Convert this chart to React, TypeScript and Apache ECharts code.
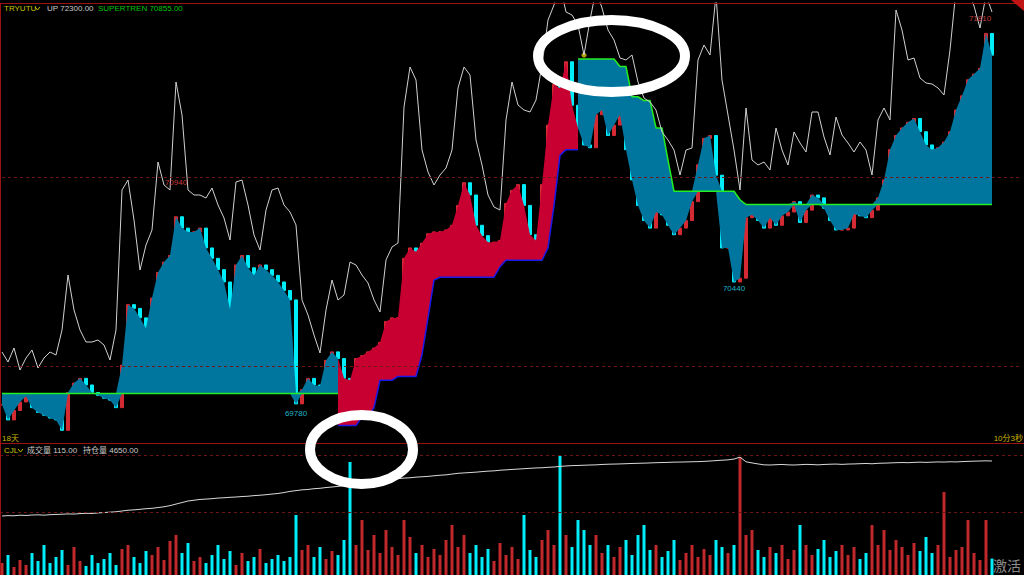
import React, { useEffect, useRef } from "react";
import * as echarts from "echarts";

const _ = null;

// closing prices, one bar per slot
const closes = [
  69795, 69715, 69765, 69810, 69840, 69780, 69755, 69740, 69725, 69715,
  69660, 69860, 69910, 69935, 69900, 69860, 69845, 69830, 69820, 69780,
  70005, 70325, 70305, 70255, 70200, 70360, 70495, 70550, 70585, 70790,
  70730, 70710, 70710, 70730, 70625, 70570, 70510, 70445, 70300, 70535,
  70585, 70520, 70480, 70535, 70510, 70480, 70445, 70400, 70350, 69800,
  69875, 69935, 69900, 69895, 70030, 70075, 70040, 69935, 69925, 70040,
  70055, 70075, 70095, 70125, 70235, 70255, 70255, 70570, 70625, 70605,
  70650, 70700, 70710, 70710, 70720, 70745, 70850, 70970, 70905, 70745,
  70690, 70655, 70655, 70665, 70860, 70930, 70960, 70850, 70695, 70665,
  70960, 71275, 71490, 71470, 71610, 71380, 71260, 71170, 71155, 71330,
  71355, 71220, 71275, 71330, 71145, 70985, 70850, 70770, 70730, 70815,
  70800, 70745, 70695, 70730, 70770, 70870, 71065, 71205, 71220, 71010,
  70625, 70625, 70445, 70465, 70785, 70800, 70770, 70730, 70785, 70745,
  70795, 70815, 70870, 70760, 70825, 70905, 70890, 70835, 70770, 70720,
  70720, 70730, 70805, 70795, 70785, 70825, 70890, 70985, 71145, 71220,
  71260, 71290, 71310, 71240, 71170, 71145, 71155, 71185, 71240, 71355,
  71430, 71515, 71545, 71575, 71760, 71645,
];

// SuperTrend, bearish leg (green)
const superTrendGreen = [
  69855, 69855, 69855, 69855, 69855, 69855, 69855, 69855, 69855, 69855,
  69855, 69855, 69855, 69855, 69855, 69855, 69855, 69855, 69855, 69855,
  69855, 69855, 69855, 69855, 69855, 69855, 69855, 69855, 69855, 69855,
  69855, 69855, 69855, 69855, 69855, 69855, 69855, 69855, 69855, 69855,
  69855, 69855, 69855, 69855, 69855, 69855, 69855, 69855, 69855, 69855,
  69855, 69855, 69855, 69855, 69855, 69855, 69855, _, _, _,
  _, _, _, _, _, _, _, _, _, _,
  _, _, _, _, _, _, _, _, _, _,
  _, _, _, _, _, _, _, _, _, _,
  _, _, _, _, _, _, 71625, 71625, 71625, 71625,
  71625, 71625, 71625, 71585, 71585, 71425, 71425, 71405, 71405, 71260,
  71260, 71090, 70925, 70925, 70925, 70925, 70925, 70925, 70925, 70925,
  70925, 70925, 70925, 70880, 70855, 70855, 70855, 70855, 70855, 70855,
  70855, 70855, 70855, 70855, 70855, 70855, 70855, 70855, 70855, 70855,
  70855, 70855, 70855, 70855, 70855, 70855, 70855, 70855, 70855, 70855,
  70855, 70855, 70855, 70855, 70855, 70855, 70855, 70855, 70855, 70855,
  70855, 70855, 70855, 70855, 70855, 70855,
];

// SuperTrend, bullish leg (blue)
const superTrendBlue = [
  _, _, _, _, _, _, _, _, _, _,
  _, _, _, _, _, _, _, _, _, _,
  _, _, _, _, _, _, _, _, _, _,
  _, _, _, _, _, _, _, _, _, _,
  _, _, _, _, _, _, _, _, _, _,
  _, _, _, _, _, _, 69685, 69685, 69685, 69685,
  69730, 69730, 69780, 69925, 69925, 69925, 69945, 69945, 69945, 69945,
  70060, 70255, 70455, 70470, 70470, 70470, 70470, 70470, 70470, 70470,
  70470, 70470, 70470, 70525, 70560, 70560, 70560, 70560, 70560, 70560,
  70560, 70625, 70850, 71115, 71145, 71145, 71145, _, _, _,
  _, _, _, _, _, _, _, _, _, _,
  _, _, _, _, _, _, _, _, _, _,
  _, _, _, _, _, _, _, _, _, _,
  _, _, _, _, _, _, _, _, _, _,
  _, _, _, _, _, _, _, _, _, _,
  _, _, _, _, _, _, _, _, _, _,
  _, _, _, _, _, _,
];

// thin white indicator drawn in the price pane (own scale)
const oscillator = [
  91, 81, 95, 73, 85, 93, 75, 85, 91, 88,
  113, 168, 133, 113, 101, 101, 103, 98, 83, 113,
  253, 263, 223, 173, 198, 213, 281, 258, 253, 361,
  328, 253, 248, 248, 245, 255, 238, 225, 203, 261,
  263, 238, 208, 193, 233, 253, 255, 238, 231, 218,
  143, 128, 108, 90, 133, 163, 143, 148, 181, 178,
  168, 160, 143, 131, 183, 196, 200, 336, 376, 363,
  293, 271, 258, 268, 275, 293, 355, 376, 368, 303,
  278, 248, 236, 233, 323, 361, 338, 333, 331, 343,
  378, 423, 438, 458, 431, 428, 418, 388, 423, 453,
  435, 413, 403, 385, 383, 388, 361, 345, 341, 333,
  311, 303, 293, 268, 293, 295, 383, 398, 388, 448,
  363, 328, 293, 253, 335, 283, 278, 281, 273, 315,
  293, 278, 311, 300, 291, 331, 331, 306, 288, 326,
  308, 300, 291, 301, 293, 268, 323, 335, 323, 433,
  413, 383, 385, 365, 360, 359, 355, 348, 393, 453,
  453, 453, 437, 415, 448, 431,
];

// 成交量
const volumes = [
  84, 140, 56, 105, 70, 154, 98, 210, 84, 126,
  175, 70, 196, 98, 63, 140, 84, 112, 154, 70,
  182, 210, 126, 84, 168, 140, 196, 105, 238, 280,
  154, 224, 98, 126, 84, 140, 210, 112, 168, 70,
  154, 98, 126, 182, 84, 112, 140, 98, 126, 420,
  175, 210, 126, 196, 112, 168, 140, 245, 791, 210,
  385, 175, 280, 154, 315, 196, 140, 385, 266, 154,
  210, 126, 182, 140, 245, 350, 196, 280, 154, 210,
  126, 182, 98, 224, 140, 196, 112, 420, 175, 126,
  245, 315, 210, 833, 280, 196, 385, 315, 210, 280,
  154, 210, 126, 196, 245, 140, 280, 350, 175, 210,
  126, 168, 245, 105, 154, 210, 126, 182, 140, 245,
  196, 154, 210, 826, 280, 315, 175, 126, 196, 154,
  210, 112, 175, 350, 210, 140, 182, 245, 126, 168,
  210, 140, 196, 112, 154, 350, 210, 315, 175, 245,
  196, 140, 224, 168, 266, 154, 210, 581, 126, 175,
  196, 385, 154, 105, 385, 115,
];

// 持仓量
const openInterest = [
  3935, 3940, 3938, 3945, 3942, 3948, 3950, 3946, 3952, 3955,
  3958, 3962, 3960, 3966, 3970, 3968, 3975, 3980, 3985, 3990,
  4000, 4010, 4015, 4022, 4030, 4035, 4045, 4055, 4070, 4090,
  4110, 4130, 4140, 4150, 4155, 4160, 4168, 4172, 4178, 4182,
  4188, 4192, 4200, 4205, 4212, 4220, 4228, 4240, 4255, 4265,
  4275, 4280, 4290, 4295, 4305, 4312, 4320, 4330, 4340, 4360,
  4385, 4392, 4400, 4405, 4410, 4415, 4420, 4428, 4432, 4440,
  4445, 4450, 4458, 4465, 4470, 4480, 4490, 4495, 4500, 4505,
  4512, 4518, 4522, 4530, 4535, 4540, 4545, 4550, 4555, 4560,
  4562, 4568, 4572, 4580, 4585, 4590, 4592, 4595, 4598, 4600,
  4605, 4608, 4610, 4612, 4615, 4618, 4620, 4622, 4625, 4628,
  4630, 4632, 4635, 4636, 4638, 4640, 4642, 4645, 4650, 4655,
  4660, 4665, 4675, 4700, 4640, 4625, 4612, 4600, 4598, 4602,
  4605, 4600, 4598, 4602, 4606, 4604, 4600, 4605, 4608, 4610,
  4606, 4610, 4612, 4615, 4618, 4614, 4620, 4622, 4625, 4628,
  4630, 4628, 4632, 4635, 4632, 4635, 4638, 4636, 4640, 4638,
  4642, 4645, 4648, 4650, 4652, 4650,
];

const priceLevels = [70000, 71000];
const extremeIndex = [29, 49, 122, 163];
const extremeValue = [70940, 69780, 70440, 71810];
const extremeIsHigh = [true, false, false, true];
const signalIndex = [56, 97];
const signalValue = [69705, 71645];
const SLOTS = 171;

const FONT = "'Liberation Sans', 'Noto Sans CJK SC', sans-serif";
const RED_LINE = "#9a1212";
const DASH_RED = "#6e1616";
const UP = "#d42a34";
const DOWN = "#00eefa";

export default function App() {
  const ref = useRef<HTMLDivElement>(null);

  useEffect(() => {
    const chart = echarts.init(ref.current!, null, { renderer: "svg" });
    const cats = Array.from({ length: SLOTS }, (__, i) => String(i));

    const opens = closes.map((c, i) => (i === 0 ? c : closes[i - 1]));
    const candles = closes.map((c, i) => {
      const o = opens[i];
      return [o, c, Math.min(o, c), Math.max(o, c)];
    });
    const low = (line: (number | null)[]) =>
      line.map((v, i) => (v == null ? null : Math.min(v, closes[i])));
    const diff = (line: (number | null)[]) =>
      line.map((v, i) => (v == null ? null : Math.abs(v - closes[i])));

    const hidden = { opacity: 0, width: 0 };

    const text = (t: string, x: number, y: number, fill: string, size = 8, align = "left") => ({
      type: "text",
      x,
      y,
      z: 50,
      style: { text: t, fill, fontSize: size, fontFamily: FONT, align, verticalAlign: "middle" },
    });
    const hline = (y: number, color: string, dashed = false) => ({
      type: "line",
      z: 5,
      shape: { x1: 0, y1: y, x2: 1024, y2: y },
      style: { stroke: color, lineWidth: 1, lineDash: dashed ? [3, 3] : null },
    });

    const option: any = {
      animation: false,
      backgroundColor: "#000000",
      grid: [
        { left: 2, right: 2, top: 3, height: 440 },
        { left: 2, right: 2, top: 455, height: 120 },
      ],
      xAxis: [
        { type: "category", gridIndex: 0, data: cats, boundaryGap: false, show: false },
        { type: "category", gridIndex: 1, data: cats, boundaryGap: false, show: false },
      ],
      yAxis: [
        { type: "value", gridIndex: 0, min: 69593, max: 71921, show: false },
        { type: "value", gridIndex: 0, min: 0, max: 440, show: false },
        { type: "value", gridIndex: 1, min: 0, max: 840, show: false },
        { type: "value", gridIndex: 1, min: 3168, max: 4728, show: false },
      ],
      series: [
        {
          type: "line", stack: "g", data: low(superTrendGreen), symbol: "none",
          lineStyle: hidden, silent: true,
        },
        {
          type: "line", stack: "g", data: diff(superTrendGreen), symbol: "none",
          lineStyle: hidden, areaStyle: { color: "#00769e", opacity: 1 }, silent: true,
        },
        {
          type: "line", stack: "b", data: low(superTrendBlue), symbol: "none",
          lineStyle: hidden, silent: true,
        },
        {
          type: "line", stack: "b", data: diff(superTrendBlue), symbol: "none",
          lineStyle: hidden, areaStyle: { color: "#c80032", opacity: 1 }, silent: true,
        },
        {
          type: "line", data: superTrendGreen, symbol: "none",
          lineStyle: { color: "#22ee22", width: 1.5 },
        },
        {
          type: "line", data: superTrendBlue, symbol: "none",
          lineStyle: { color: "#1a1ae6", width: 1.5 },
        },
        {
          type: "candlestick",
          data: candles,
          barWidth: 3,
          itemStyle: { color: UP, color0: DOWN, borderColor: UP, borderColor0: DOWN, borderWidth: 1 },
          markLine: {
            silent: true,
            symbol: ["none", "none"],
            label: { show: false },
            lineStyle: { color: DASH_RED, type: [3, 3], width: 1 },
            data: priceLevels.map((v) => ({ yAxis: v })),
          },
          markPoint: {
            silent: true,
            data: extremeIndex.map((ix, k) => ({
              coord: [ix, extremeValue[k]],
              symbol: "circle",
              symbolSize: 1,
              itemStyle: { color: "rgba(0,0,0,0)" },
              label: {
                show: true,
                formatter: String(extremeValue[k]),
                position: extremeIsHigh[k] ? "top" : "bottom",
                distance: 1,
                color: extremeIsHigh[k] ? "#c83c3c" : "#1eb4c8",
                fontSize: 8,
                fontFamily: FONT,
              },
            })),
          },
        },
        {
          type: "line", yAxisIndex: 1, data: oscillator, symbol: "none",
          lineStyle: { color: "#d0d0d0", width: 1 },
        },
        {
          type: "scatter",
          data: signalIndex.map((ix, k) => [ix, signalValue[k]]),
          symbolSize: 5,
          itemStyle: { color: "#d6c000" },
        },
        {
          type: "bar",
          xAxisIndex: 1,
          yAxisIndex: 2,
          barWidth: 3,
          data: volumes.map((v, i) => ({
            value: v,
            itemStyle: { color: closes[i] >= opens[i] ? "#c0282c" : DOWN },
          })),
        },
        {
          type: "line", xAxisIndex: 1, yAxisIndex: 3, data: openInterest, symbol: "none",
          lineStyle: { color: "#d8d8d8", width: 1 },
        },
      ],
      graphic: [
        hline(3.5, RED_LINE),
        hline(443.5, RED_LINE),
        hline(455.5, DASH_RED, true),
        hline(512.5, DASH_RED, true),
        {
          type: "line", z: 5,
          shape: { x1: 0.5, y1: 3, x2: 0.5, y2: 575 },
          style: { stroke: RED_LINE, lineWidth: 1 },
        },
        {
          type: "polygon", z: 5,
          shape: { points: [[1011, 0], [1024, 0], [1024, 11]] },
          style: { fill: "#c01414" },
        },
        text("TRYUTU", 4, 8, "#c8c400"),
        {
          type: "polyline", z: 50,
          shape: { points: [[35, 7], [37.5, 10], [40, 7]] },
          style: { stroke: "#c8c400", lineWidth: 1, fill: "none" },
        },
        text("UP 72300.00", 47, 8, "#c8c8c8"),
        text("SUPERTREN 70855.00", 98, 8, "#00c400"),
        text("18天", 2, 438, "#c8b400"),
        text("10分3秒", 1023, 438, "#c8b400", 8, "right"),
        text("CJL", 4, 450, "#c8c400"),
        {
          type: "polyline", z: 50,
          shape: { points: [[18, 449], [20.5, 452], [23, 449]] },
          style: { stroke: "#c8c400", lineWidth: 1, fill: "none" },
        },
        text("成交量 115.00", 27, 450, "#c8c8c8"),
        text("持仓量 4650.00", 83, 450, "#c8c8c8"),
        text("激活", 993, 566, "#8c8c8c", 14),
        {
          type: "ellipse", z: 100,
          shape: { cx: 611.5, cy: 56, rx: 73.5, ry: 36 },
          style: { fill: "none", stroke: "#ffffff", lineWidth: 10 },
        },
        {
          type: "ellipse", z: 100,
          shape: { cx: 361.5, cy: 449.5, rx: 51.5, ry: 34.5 },
          style: { fill: "none", stroke: "#ffffff", lineWidth: 10 },
        },
      ],
    };

    chart.setOption(option);
    return () => chart.dispose();
  }, []);

  return (
    <div
      ref={ref}
      style={{ position: "fixed", left: 0, top: 0, width: 1024, height: 575, background: "#000" }}
    />
  );
}
